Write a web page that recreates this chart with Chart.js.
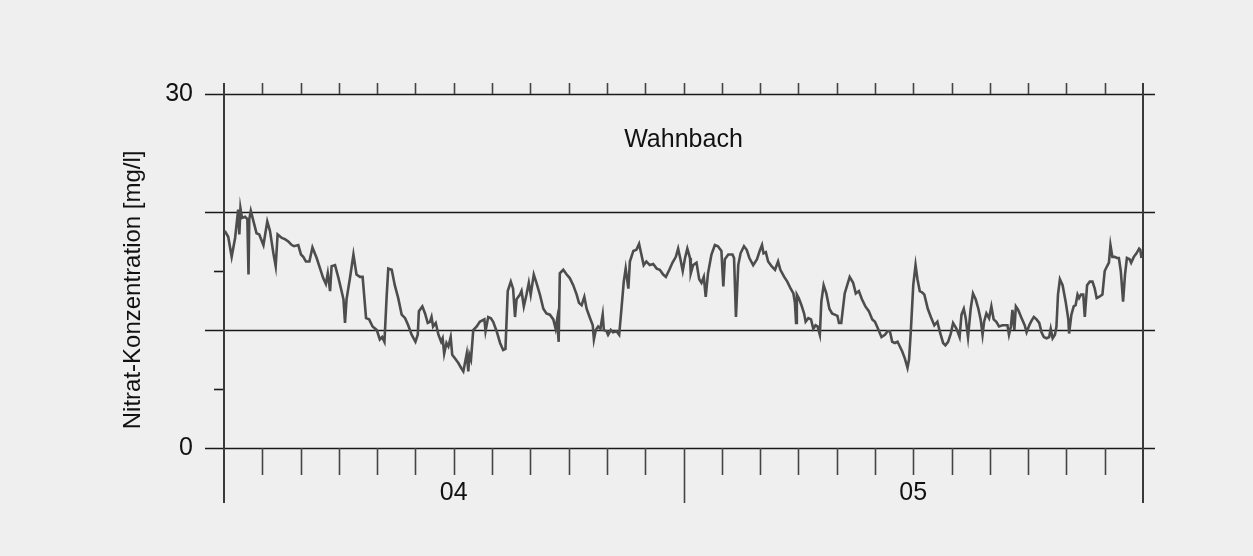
<!DOCTYPE html>
<html>
<head>
<meta charset="utf-8">
<script src="https://cdn.jsdelivr.net/npm/chart.js@4.4.1/dist/chart.umd.min.js"></script>
<style>
  html, body { margin: 0; padding: 0; background: #efefef; }
  #wrap { width: 1253px; height: 556px; position: relative; }
</style>
</head>
<body>
<div id="wrap"><canvas id="chart"></canvas></div>
<script>
// months since start (0 = begin of plot, 12 = new year), nitrate in mg/l
var monate = [
  0.02, 0.11, 0.20, 0.29, 0.37, 0.40, 0.43, 0.47, 0.55, 0.61, 0.64, 0.66, 0.70, 0.77, 0.85, 0.92,
  1.03, 1.13, 1.20, 1.29, 1.35, 1.40, 1.51, 1.59, 1.68, 1.77, 1.83, 1.94,
  2.01, 2.07, 2.14, 2.23, 2.31, 2.42, 2.51, 2.59, 2.66, 2.71, 2.77, 2.81, 2.90, 2.99,
  3.07, 3.12, 3.16, 3.20, 3.29, 3.38, 3.46, 3.55, 3.62, 3.71, 3.79, 3.88, 3.99,
  4.07, 4.13, 4.19, 4.25, 4.29, 4.38, 4.46, 4.55, 4.64, 4.73, 4.81, 4.90,
  5.00, 5.06, 5.09, 5.18, 5.25, 5.32, 5.38, 5.42, 5.46, 5.53, 5.60, 5.67, 5.71, 5.75, 5.81, 5.86, 5.92, 5.96,
  6.03, 6.12, 6.19, 6.25, 6.31, 6.34, 6.38, 6.41, 6.45, 6.51, 6.60, 6.68, 6.80, 6.83, 6.90, 6.97,
  7.03, 7.12, 7.21, 7.29, 7.35, 7.41, 7.49, 7.55, 7.60, 7.64, 7.73, 7.77, 7.83, 7.90, 7.96,
  8.01, 8.09, 8.16, 8.25, 8.34, 8.42, 8.51, 8.60, 8.66, 8.70, 8.74, 8.77, 8.86, 8.95,
  9.03, 9.12, 9.21, 9.27, 9.34, 9.41, 9.47, 9.56, 9.63, 9.66, 9.71, 9.77, 9.83, 9.89, 9.92, 9.99,
  10.03, 10.10, 10.16, 10.25, 10.32, 10.38, 10.44, 10.49, 10.56, 10.60, 10.69, 10.77, 10.84, 10.90, 10.96,
  11.03, 11.12, 11.21, 11.30, 11.38, 11.47, 11.54, 11.63, 11.71, 11.80, 11.86, 11.92, 11.98,
  12.04, 12.10, 12.17, 12.19, 12.25, 12.34, 12.41, 12.47, 12.53, 12.58, 12.64, 12.73, 12.82, 12.90, 12.99,
  13.04, 13.08, 13.17, 13.28, 13.32, 13.37, 13.43, 13.49, 13.58, 13.65, 13.72, 13.82, 13.92, 13.99,
  14.05, 14.09, 14.15, 14.21, 14.30, 14.39, 14.47, 14.53, 14.63, 14.71, 14.80, 14.87, 14.91, 14.94, 14.96,
  15.01, 15.08, 15.15, 15.19, 15.26, 15.33, 15.39, 15.45, 15.50, 15.56, 15.60, 15.66, 15.73, 15.81, 15.88, 15.95,
  16.02, 16.06, 16.12, 16.21, 16.34, 16.43, 16.50, 16.58, 16.66, 16.75, 16.84, 16.93,
  17.00, 17.08, 17.17, 17.26, 17.33, 17.39, 17.45, 17.52, 17.59, 17.65, 17.71, 17.78, 17.85, 17.89, 17.94,
  18.00, 18.06, 18.11, 18.17, 18.23, 18.29, 18.38, 18.46, 18.55, 18.63, 18.69, 18.78, 18.84, 18.91, 18.98,
  19.04, 19.13, 19.21, 19.26, 19.32, 19.37, 19.43, 19.50, 19.56, 19.63, 19.70, 19.76, 19.81, 19.85, 19.91, 19.98,
  20.04, 20.10, 20.17, 20.24, 20.33, 20.41, 20.46, 20.50, 20.55, 20.59, 20.64, 20.68, 20.74, 20.83, 20.91, 20.96,
  21.03, 21.09, 21.15, 21.22, 21.29, 21.35, 21.41, 21.48, 21.55, 21.59, 21.64, 21.70, 21.74, 21.78, 21.83, 21.90, 21.98,
  22.05, 22.07, 22.13, 22.19, 22.24, 22.29, 22.33, 22.38, 22.44, 22.48, 22.54, 22.61, 22.68, 22.74, 22.79, 22.85, 22.94,
  23.00, 23.06, 23.11, 23.15, 23.20, 23.26, 23.32, 23.37, 23.42, 23.48, 23.53, 23.58, 23.65, 23.69, 23.76, 23.83, 23.90, 23.93, 23.96
];
var nitrat = [
  18.4, 17.9, 16.2, 17.8, 20.2, 18.1, 20.3, 19.5, 19.6, 19.4, 14.7, 19.4, 20.1, 19.2, 18.2, 18.1,
  17.2, 19.2, 18.4, 16.5, 15.4, 18.1, 17.8, 17.7, 17.5, 17.2, 17.1, 17.2,
  16.4, 16.2, 15.8, 15.8, 17.0, 16.1, 15.2, 14.4, 13.9, 14.8, 13.3, 15.4, 15.5, 14.4,
  13.3, 12.6, 10.6, 12.6, 14.4, 16.4, 14.7, 14.5, 14.5, 11.0, 10.9, 10.3, 10.0,
  9.2, 9.4, 9.0, 13.0, 15.2, 15.1, 13.8, 12.7, 11.3, 11.0, 10.4, 9.6,
  9.0, 9.6, 11.6, 12.0, 11.4, 10.6, 10.7, 11.1, 10.3, 10.6, 9.6, 9.0, 9.3, 8.0, 8.9, 8.6, 9.4, 7.9,
  7.6, 7.2, 6.8, 6.5, 7.5, 8.0, 6.5, 7.9, 7.5, 10.0, 10.3, 10.7, 10.9, 9.9, 11.1, 11.0,
  10.7, 9.9, 8.9, 8.3, 8.4, 13.3, 14.1, 13.5, 11.1, 12.6, 13.0, 13.3, 12.0, 13.0, 14.0,
  13.0, 14.7, 14.0, 13.0, 11.8, 11.4, 11.3, 10.9, 10.1, 10.9, 9.0, 14.8, 15.1, 14.7,
  14.4, 13.8, 13.0, 12.3, 12.1, 12.8, 11.8, 11.0, 10.4, 9.2, 10.0, 10.3, 10.1, 11.3, 10.0, 9.9,
  9.6, 10.0, 9.8, 9.9, 9.6, 11.8, 14.1, 15.2, 13.5, 15.8, 16.7, 16.8, 17.3, 16.4, 15.5,
  15.8, 15.5, 15.6, 15.2, 15.1, 14.7, 14.5, 15.1, 15.7, 16.2, 16.9, 16.0, 15.0,
  16.1, 16.9, 16.1, 14.8, 15.5, 15.7, 14.3, 14.0, 14.5, 12.8, 14.8, 16.4, 17.2, 17.1, 16.7,
  13.7, 16.0, 16.4, 16.4, 16.1, 11.1, 15.5, 16.5, 17.1, 16.8, 16.1, 15.5, 16.0, 16.7,
  17.2, 16.5, 16.6, 15.8, 15.4, 15.1, 15.8, 15.1, 14.5, 14.1, 13.5, 13.1, 12.3, 10.6, 13.0,
  12.7, 12.1, 11.4, 10.7, 11.0, 10.9, 10.1, 10.4, 10.3, 9.6, 12.4, 13.8, 13.1, 11.8, 11.4, 11.3,
  11.2, 10.6, 10.6, 13.1, 14.5, 14.0, 13.1, 13.3, 12.6, 12.0, 11.6, 10.9,
  10.7, 10.1, 9.4, 9.6, 9.9, 9.9, 9.0, 8.9, 9.0, 8.6, 8.2, 7.6, 6.8, 7.5, 10.1,
  13.8, 15.5, 14.3, 13.3, 13.2, 13.0, 11.8, 11.1, 10.4, 10.7, 9.9, 8.9, 8.7, 9.0, 9.7,
  10.6, 10.1, 9.4, 11.3, 11.8, 11.0, 9.4, 11.8, 13.1, 12.6, 11.8, 10.9, 9.6, 10.7, 11.4, 11.0,
  12.0, 10.9, 10.7, 10.3, 10.4, 10.4, 10.4, 9.6, 10.3, 11.7, 10.0, 12.0, 11.7, 11.0, 10.4, 9.8,
  10.4, 10.8, 11.1, 10.9, 10.6, 9.8, 9.4, 9.3, 9.4, 10.1, 9.3, 9.6, 10.3, 13.0, 14.3, 13.8, 12.4,
  10.9, 9.7, 11.3, 12.0, 12.1, 13.0, 12.7, 13.0, 13.0, 11.1, 13.8, 14.1, 14.1, 13.5, 12.7, 12.8, 13.0,
  15.0, 15.4, 15.7, 17.2, 16.2, 16.2, 16.1, 16.1, 15.0, 12.4, 14.7, 16.1, 16.0, 15.7, 16.2, 16.5, 16.9, 16.8, 16.1
];

var gitterWerte = [0, 10, 20, 30];
var kurzeTicks = [5, 15];
var jahrLabels = ['04', '05'];
var jahrMitte = [6, 18];
var jahrGrenzen = [0, 12, 24];
var titel = 'Wahnbach';
var yTitel = 'Nitrat-Konzentration [mg/l]';
var schrift = "'Liberation Sans', Arial, sans-serif";

var punkte = monate.map(function (m, i) {
    return { x: m, y: nitrat[i] };
});

// axis frame, tick marks and labels like the printed figure
var rahmen = {
    id: 'rahmen',
    beforeDatasetsDraw: function (chart) {
        var ctx = chart.ctx;
        var xs = chart.scales.x;
        var ys = chart.scales.y;
        ctx.save();
        ctx.lineCap = 'butt';

        ctx.strokeStyle = '#1a1a1a';
        ctx.lineWidth = 1.6;
        gitterWerte.forEach(function (v) {
            var py = Math.round(ys.getPixelForValue(v)) + 0.5;
            ctx.beginPath();
            ctx.moveTo(xs.left - 19, py);
            ctx.lineTo(xs.right + 12, py);
            ctx.stroke();
        });
        kurzeTicks.forEach(function (v) {
            var py = Math.round(ys.getPixelForValue(v)) + 0.5;
            ctx.beginPath();
            ctx.moveTo(xs.left - 10, py);
            ctx.lineTo(xs.left, py);
            ctx.stroke();
        });

        ctx.strokeStyle = '#444';
        ctx.lineWidth = 1.6;
        for (var m = 1; m < 24; m++) {
            var px = Math.round(xs.getPixelForValue(m)) + 0.5;
            var lang = jahrGrenzen.indexOf(m) >= 0;
            ctx.beginPath();
            ctx.moveTo(px, ys.top);
            ctx.lineTo(px, ys.top - 11);
            ctx.moveTo(px, ys.bottom);
            ctx.lineTo(px, ys.bottom + (lang ? 55 : 27));
            ctx.stroke();
        }

        ctx.strokeStyle = '#3a3a3a';
        ctx.lineWidth = 2;
        [xs.left, xs.right].forEach(function (x) {
            var px = Math.round(x);
            ctx.beginPath();
            ctx.moveTo(px, ys.top - 11);
            ctx.lineTo(px, ys.bottom + 55);
            ctx.stroke();
        });

        ctx.fillStyle = '#111';
        ctx.font = '25px ' + schrift;
        ctx.textAlign = 'center';
        ctx.textBaseline = 'middle';
        jahrLabels.forEach(function (t, i) {
            ctx.fillText(t, xs.getPixelForValue(jahrMitte[i]), ys.bottom + 45);
        });
        ctx.font = '25px ' + schrift;
        ctx.fillText(titel, xs.getPixelForValue(12), ys.getPixelForValue(26.1));

        // y title, a bit below the middle of the axis as in the original
        ctx.save();
        ctx.translate(133, ys.getPixelForValue(13.4));
        ctx.rotate(-Math.PI / 2);
        ctx.font = '24px ' + schrift;
        ctx.fillText(yTitel, 0, 0);
        ctx.restore();

        ctx.restore();
    }
};

new Chart(document.getElementById('chart'), {
    type: 'line',
    data: {
        datasets: [{
            data: punkte,
            borderColor: '#4d4d4d',
            borderWidth: 2.6,
            pointRadius: 0,
            tension: 0,
            fill: false
        }]
    },
    options: {
        responsive: true,
        maintainAspectRatio: false,
        animation: false,
        layout: { padding: { left: 0, top: 94, right: 110, bottom: 108 } },
        plugins: {
            legend: { display: false },
            tooltip: { enabled: false }
        },
        scales: {
            x: {
                type: 'linear',
                min: 0,
                max: 24,
                display: false
            },
            y: {
                min: 0,
                max: 30,
                afterFit: function (s) { s.width = 224; },
                grid: { display: false, drawTicks: false },
                border: { display: false },
                ticks: {
                    stepSize: 5,
                    padding: 31,
                    color: '#111',
                    font: { size: 25, family: schrift },
                    callback: function (v) { return v % 30 === 0 ? String(v) : ''; }
                },
                title: { display: false }
            }
        }
    },
    plugins: [rahmen]
});
</script>
</body>
</html>
